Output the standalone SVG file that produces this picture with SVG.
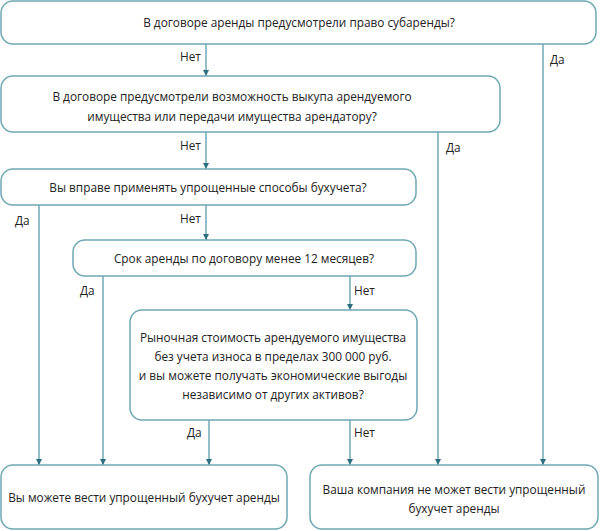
<svg xmlns="http://www.w3.org/2000/svg" width="600" height="531" viewBox="0 0 600 531">
<style>
.box{fill:#fff;stroke:#6fa7b4;stroke-width:1.5}
.ln{stroke:#6fa7b4;stroke-width:1.5;fill:none}
.t{font-family:"Open Sans","DejaVu Sans",sans-serif;font-size:11.8px;fill:#222;text-anchor:middle}
.l{font-family:"Open Sans","DejaVu Sans",sans-serif;font-size:11.8px;fill:#222}
</style>
<defs>
<marker id="ah" viewBox="0 0 10 10" refX="10" refY="5" markerWidth="6" markerHeight="6" orient="auto" markerUnits="userSpaceOnUse">
<path d="M0,0 L10,5 L0,10 z" fill="#2d6f80"/>
</marker>
</defs>
<rect width="600" height="531" fill="#fff"/>
<g id="connectors">
<line class="ln" x1="206" y1="44" x2="206" y2="76" marker-end="url(#ah)"/>
<line class="ln" x1="206" y1="132" x2="206" y2="169" marker-end="url(#ah)"/>
<line class="ln" x1="206" y1="205" x2="206" y2="240" marker-end="url(#ah)"/>
<line class="ln" x1="350" y1="276" x2="350" y2="310" marker-end="url(#ah)"/>
<line class="ln" x1="543" y1="44" x2="543" y2="465" marker-end="url(#ah)"/>
<line class="ln" x1="438" y1="132" x2="438" y2="465" marker-end="url(#ah)"/>
<line class="ln" x1="39" y1="205" x2="39" y2="465" marker-end="url(#ah)"/>
<line class="ln" x1="103" y1="276" x2="103" y2="465" marker-end="url(#ah)"/>
<line class="ln" x1="209" y1="420" x2="209" y2="465" marker-end="url(#ah)"/>
<line class="ln" x1="350" y1="420" x2="350" y2="465" marker-end="url(#ah)"/>
<text class="l" x="180" y="61">Нет</text>
<text class="l" x="180" y="150">Нет</text>
<text class="l" x="180" y="223">Нет</text>
<text class="l" x="354" y="295">Нет</text>
<text class="l" x="354" y="437">Нет</text>
<text class="l" x="550" y="64">Да</text>
<text class="l" x="446" y="152">Да</text>
<text class="l" x="15" y="225">Да</text>
<text class="l" x="80" y="295">Да</text>
<text class="l" x="187" y="437">Да</text>
</g>
<g id="n1">
<rect class="box" x="1" y="1" width="595" height="43" rx="12"/>
<text class="t" x="299" y="27">В договоре аренды предусмотрели право субаренды?</text>
</g>
<g id="n2">
<rect class="box" x="1" y="76" width="499" height="56" rx="12"/>
<text class="t" x="232" y="101">В договоре предусмотрели возможность выкупа арендуемого</text>
<text class="t" x="232" y="121">имущества или передачи имущества арендатору?</text>
</g>
<g id="n3">
<rect class="box" x="1" y="169" width="415" height="36" rx="12"/>
<text class="t" x="208" y="192">Вы вправе применять упрощенные способы бухучета?</text>
</g>
<g id="n4">
<rect class="box" x="73" y="240" width="343" height="36" rx="12"/>
<text class="t" x="244" y="263">Срок аренды по договору менее 12 месяцев?</text>
</g>
<g id="n5">
<rect class="box" x="130" y="310" width="287" height="110" rx="12"/>
<text class="t" x="273" y="342">Рыночная стоимость арендуемого имущества</text>
<text class="t" x="273" y="361">без учета износа в пределах 300 000 руб.</text>
<text class="t" x="273" y="380">и вы можете получать экономические выгоды</text>
<text class="t" x="273" y="399">независимо от других активов?</text>
</g>
<g id="n6">
<rect class="box" x="1" y="465" width="286" height="64" rx="12"/>
<text class="t" x="144" y="502">Вы можете вести упрощенный бухучет аренды</text>
</g>
<g id="n7">
<rect class="box" x="310" y="465" width="288" height="64" rx="12"/>
<text class="t" x="454" y="494">Ваша компания не может вести упрощенный</text>
<text class="t" x="454" y="513">бухучет аренды</text>
</g>
</svg>
